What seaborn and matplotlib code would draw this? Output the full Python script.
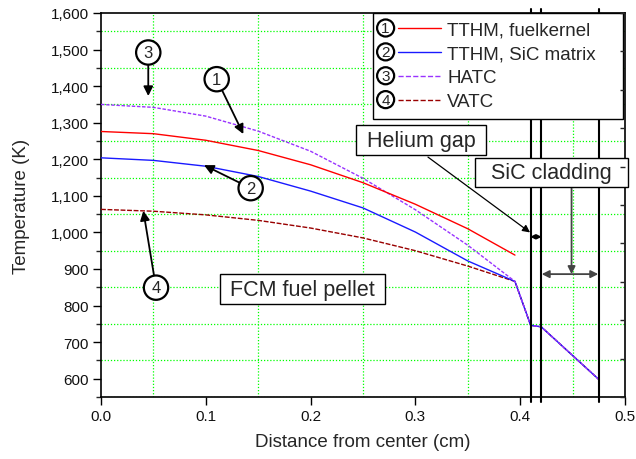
import numpy as np
import pandas as pd
import matplotlib
matplotlib.use("Agg")
import matplotlib.pyplot as plt
import seaborn as sns
from matplotlib.ticker import MultipleLocator, FuncFormatter
from matplotlib.lines import Line2D
from matplotlib.text import Text
from matplotlib.legend_handler import HandlerBase

# ---------------- data ----------------
r_pellet = [0.0, 0.05, 0.10, 0.15, 0.20, 0.25, 0.30, 0.35, 0.395]
r_outer = [0.41, 0.42, 0.475]
T_outer = [746, 742, 598]
T_fuelkernel = [1276, 1270, 1252, 1224, 1185, 1136, 1077, 1010, 938]
T_sic_matrix = [1204, 1197, 1181, 1153, 1113, 1067, 1001, 922, 866]
T_hatc = [1350, 1342, 1318, 1277, 1222, 1148, 1062, 965, 866]
T_vatc = [1063, 1058, 1048, 1033, 1012, 985, 950, 908, 866]
series_names = ["TTHM, fuelkernel", "TTHM, SiC matrix", "HATC", "VATC"]
series_numbers = ["1", "2", "3", "4"]
boundaries = [0.41, 0.42, 0.475]
x_ticks = [0.0, 0.1, 0.2, 0.3, 0.4, 0.5]
y_ticks = [600, 700, 800, 900, 1000, 1100, 1200, 1300, 1400, 1500, 1600]

frames = []
frames.append(pd.DataFrame({"r": r_pellet, "T": T_fuelkernel, "series": series_names[0]}))
frames.append(pd.DataFrame({"r": r_pellet + r_outer, "T": T_sic_matrix + T_outer, "series": series_names[1]}))
frames.append(pd.DataFrame({"r": r_pellet + r_outer, "T": T_hatc + T_outer, "series": series_names[2]}))
frames.append(pd.DataFrame({"r": r_pellet + r_outer, "T": T_vatc + T_outer, "series": series_names[3]}))
df = pd.concat(frames, ignore_index=True)

styles = {
    series_names[0]: dict(color="#FF0000", linestyle="-", lw=1.0),
    series_names[1]: dict(color="#1A1AFF", linestyle="-", lw=1.0),
    series_names[2]: dict(color="#9933FF", linestyle=(0, (2.5, 1.2)), lw=1.0),
    series_names[3]: dict(color="#990000", linestyle=(0, (3.5, 1.2)), lw=1.0),
}

sns.set_style("ticks")
plt.rcParams["font.family"] = ["Liberation Sans", "DejaVu Sans"]

fig = plt.figure(figsize=(6.36, 4.6), dpi=100)
ax = fig.add_axes([101 / 636, 1 - 398 / 460, 524 / 636, 384 / 460])

for name in [series_names[3], series_names[1], series_names[2], series_names[0]]:
    sub = df[df["series"] == name]
    st = styles[name]
    sns.lineplot(data=sub, x="r", y="T", ax=ax, sort=False, estimator=None,
                 color=st["color"], linestyle=st["linestyle"], linewidth=st["lw"],
                 legend=False, zorder=3)

ax.set_xlim(0, 0.5)
ax.set_ylim(550, 1600)
ax.set_xticks(x_ticks)
ax.set_yticks(y_ticks)
ax.xaxis.set_major_formatter(FuncFormatter(lambda v, p: f"{v:.1f}"))
ax.yaxis.set_major_formatter(FuncFormatter(lambda v, p: f"{int(round(v)):,}"))
ax.xaxis.set_minor_locator(MultipleLocator(0.05))
ax.yaxis.set_minor_locator(MultipleLocator(50))
ax.grid(False, which="major")
ax.grid(True, which="minor", color="#00FF00", linestyle=(0, (1, 1.5)), linewidth=0.9)
ax.set_axisbelow(True)

ax.tick_params(axis="both", which="major", direction="out", length=6, width=1.0,
               labelsize=11, color="black", labelcolor="#111111", pad=3)
ax.tick_params(axis="y", which="minor", direction="out", length=3.5, width=1.0)
ax.tick_params(axis="x", which="minor", length=0)
for s in ax.spines.values():
    s.set_linewidth(1.2)
    s.set_color("black")
    s.set_visible(True)

ax.set_xlabel("Distance from center (cm)", fontsize=13.5, labelpad=7)
ax.set_ylabel("Temperature (K)", fontsize=13.5, labelpad=15)

# boundaries
for b in boundaries:
    ax.axvline(b, ymin=-0.012, ymax=1.01, color="black", lw=1.5, clip_on=False, zorder=4)

# right-side ticks (separate layer)
ax2 = ax.twinx()
ax2.set_ylim(0, 10)
ax2.yaxis.set_major_locator(MultipleLocator(1))
ax2.tick_params(axis="y", direction="in", length=3.5, width=1.0, labelright=False)
for s in ax2.spines.values():
    s.set_visible(False)

# numbered callouts
def callout(num, xy_text, xy_tip):
    ax.annotate(num, xy=xy_tip, xytext=xy_text, ha="center", va="center", fontsize=12,
                bbox=dict(boxstyle="circle,pad=0.28", fc="white", ec="black", lw=1.6),
                arrowprops=dict(arrowstyle="-|>", color="black", lw=1.3, mutation_scale=14,
                                shrinkA=0, shrinkB=0),
                zorder=6)

callout(series_numbers[2], (0.0451, 1492), (0.0451, 1373))
callout(series_numbers[0], (0.1104, 1419), (0.1358, 1269))
callout(series_numbers[1], (0.1428, 1121), (0.0983, 1184))
callout(series_numbers[3], (0.0525, 849), (0.0404, 1059))

box = dict(boxstyle="square,pad=0.2", fc="white", ec="black", lw=1.0)
ax.text(0.1922, 845, " FCM fuel pellet ", fontsize=15.5, ha="center", va="center", bbox=box, zorder=7)

ax.annotate("", xy=(0.4094, 1000), xytext=(0.312, 1206),
            arrowprops=dict(arrowstyle="-|>", color="black", lw=0.9, mutation_scale=11,
                            shrinkA=0, shrinkB=0), zorder=6)
ax.annotate("", xy=(0.4095, 988), xytext=(0.4205, 988),
            arrowprops=dict(arrowstyle="<|-|>", color="black", lw=1.0, mutation_scale=7,
                            shrinkA=0, shrinkB=0), zorder=6)
ax.annotate("", xy=(0.4205, 886), xytext=(0.4745, 886),
            arrowprops=dict(arrowstyle="<|-|>", color="#444444", lw=1.3, mutation_scale=11,
                            shrinkA=0, shrinkB=0), zorder=6)
ax.annotate("", xy=(0.449, 886), xytext=(0.449, 1150),
            arrowprops=dict(arrowstyle="-|>", color="#444444", lw=1.3, mutation_scale=11,
                            shrinkA=0, shrinkB=0), zorder=6)

ax.text(0.3053, 1252, " Helium gap ", fontsize=15.5, ha="center", va="center", bbox=box, zorder=8)
ax.text(0.4300, 1164, "  SiC cladding  ", fontsize=15.5, ha="center", va="center", bbox=box, zorder=8)

# legend with numbered circles
class NumberedLine(HandlerBase):
    def __init__(self, num):
        super().__init__()
        self.num = num

    def create_artists(self, legend, orig_handle, xdescent, ydescent, width, height, fontsize, trans):
        y = height / 2 - ydescent
        line = Line2D([0.28 * width - xdescent, width - xdescent], [y, y],
                      color=orig_handle.get_color(), linestyle=orig_handle.get_linestyle(),
                      linewidth=orig_handle.get_linewidth(), transform=trans)
        t = Text(0.07 * width - xdescent, y, self.num, ha="center", va="center", fontsize=11,
                 transform=trans,
                 bbox=dict(boxstyle="circle,pad=0.1", fc="white", ec="black", lw=1.6))
        return [line, t]

handles = []
hmap = {}
for name, num in zip(series_names, series_numbers):
    st = styles[name]
    h = Line2D([], [], color=st["color"], linestyle=st["linestyle"], linewidth=st["lw"])
    handles.append(h)
    hmap[h] = NumberedLine(num)

leg = ax.legend(handles, series_names, handler_map=hmap, loc="upper left",
                bbox_to_anchor=((373 - 101) / 524, 0.0, (623 - 373) / 524, 1.0), mode="expand",
                fontsize=13.5, frameon=True, fancybox=False, edgecolor="black", framealpha=1,
                borderaxespad=0.0, borderpad=0.45, handlelength=3.18, handletextpad=0.32,
                labelspacing=0.36)
leg.get_frame().set_linewidth(1.0)
leg.set_zorder(9)

fig.savefig("out.png", dpi=100)
